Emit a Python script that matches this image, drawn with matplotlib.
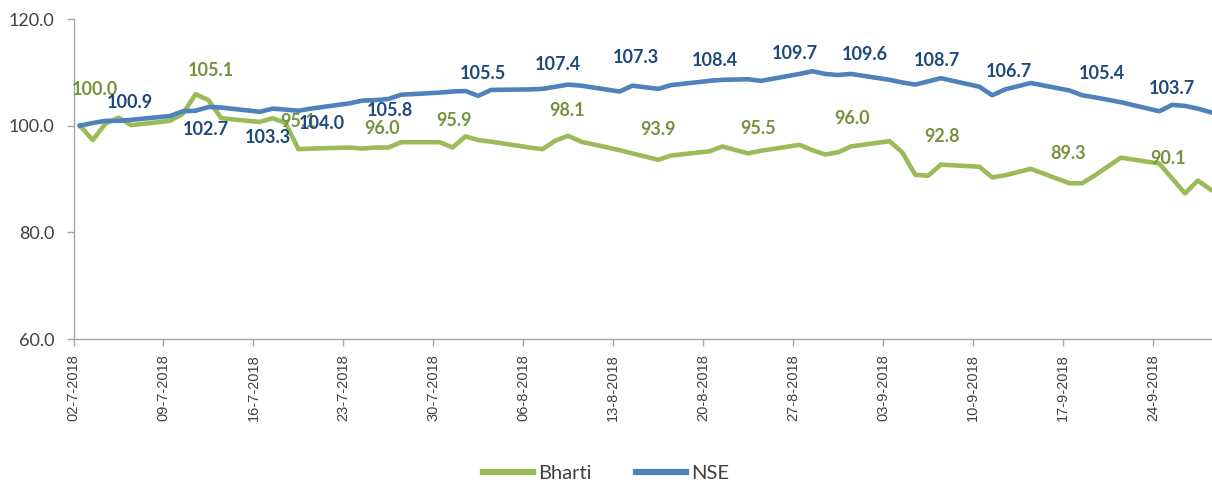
import matplotlib
matplotlib.use("Agg")
import matplotlib.pyplot as plt
import matplotlib.dates as mdates
from matplotlib.lines import Line2D
import pandas as pd

# trading days (Jul 2 - Sep 28 2018, exchange holidays excluded)
dates = [
    "2018-07-02", "2018-07-03", "2018-07-04", "2018-07-05", "2018-07-06",
    "2018-07-09", "2018-07-10", "2018-07-11", "2018-07-12", "2018-07-13",
    "2018-07-16", "2018-07-17", "2018-07-18", "2018-07-19", "2018-07-20",
    "2018-07-23", "2018-07-24", "2018-07-25", "2018-07-26", "2018-07-27",
    "2018-07-30", "2018-07-31", "2018-08-01", "2018-08-02", "2018-08-03",
    "2018-08-06", "2018-08-07", "2018-08-08", "2018-08-09", "2018-08-10",
    "2018-08-13", "2018-08-14", "2018-08-16", "2018-08-17",
    "2018-08-20", "2018-08-21", "2018-08-23", "2018-08-24",
    "2018-08-27", "2018-08-28", "2018-08-29", "2018-08-30", "2018-08-31",
    "2018-09-03", "2018-09-04", "2018-09-05", "2018-09-06", "2018-09-07",
    "2018-09-10", "2018-09-11", "2018-09-12", "2018-09-14",
    "2018-09-17", "2018-09-18", "2018-09-19", "2018-09-21",
    "2018-09-24", "2018-09-25", "2018-09-26", "2018-09-27", "2018-09-28",
]

bharti = [
    100.0, 97.3, 100.4, 101.5, 100.1,
    100.9, 102.2, 105.9, 104.8, 101.4,
    100.7, 101.4, 100.5, 95.6, 95.7,
    95.9, 95.7, 95.9, 95.9, 96.9,
    96.9, 95.9, 98.0, 97.3, 97.0,
    95.9, 95.6, 97.2, 98.1, 97.0,
    95.4, 94.8, 93.6, 94.4,
    95.2, 96.1, 94.8, 95.3,
    96.4, 95.4, 94.6, 95.0, 96.1,
    97.1, 95.0, 90.8, 90.6, 92.7,
    92.3, 90.3, 90.7, 91.9,
    89.2, 89.2, 90.7, 94.0,
    92.9, 90.1, 87.3, 89.7, 88.0,
]

nse = [
    100.0, 100.5, 100.9, 100.9, 101.1,
    101.8, 102.7, 102.8, 103.5, 103.4,
    102.6, 103.2, 103.0, 102.8, 103.2,
    104.2, 104.7, 104.8, 105.0, 105.8,
    106.2, 106.4, 106.5, 105.6, 106.7,
    106.8, 106.9, 107.3, 107.7, 107.5,
    106.4, 107.5, 106.9, 107.6,
    108.4, 108.6, 108.7, 108.4,
    109.7, 110.2, 109.7, 109.5, 109.7,
    108.6, 108.1, 107.7, 108.3, 108.9,
    107.3, 105.7, 106.8, 108.0,
    106.6, 105.7, 105.3, 104.4,
    102.7, 103.9, 103.7, 103.2, 102.5,
]

tick_dates = ["2018-07-02", "2018-07-09", "2018-07-16", "2018-07-23", "2018-07-30",
              "2018-08-06", "2018-08-13", "2018-08-20", "2018-08-27", "2018-09-03",
              "2018-09-10", "2018-09-17", "2018-09-24"]
tick_labels = ["02-7-2018", "09-7-2018", "16-7-2018", "23-7-2018", "30-7-2018",
               "06-8-2018", "13-8-2018", "20-8-2018", "27-8-2018", "03-9-2018",
               "10-9-2018", "17-9-2018", "24-9-2018"]

# data labels shown on the chart
bharti_labels = ["100.0", "105.1", "95.1", "96.0", "95.9", "98.1", "93.9",
                 "95.5", "96.0", "92.8", "89.3", "90.1"]
nse_labels = ["100.9", "102.7", "103.3", "104.0", "105.8", "105.5", "107.4", "107.3",
              "108.4", "109.7", "109.6", "108.7", "106.7", "105.4", "103.7"]

# label placement (days after Jul 2, y position in axis units)
bharti_lab_x = [1.2, 10.2, 17.0, 23.5, 29.1, 37.9, 45.0, 52.8, 60.1, 67.1, 76.9, 84.7]
bharti_lab_y = [106.7, 110.4, 100.7, 99.5, 101.0, 102.9, 99.2, 99.5, 101.4, 98.0, 94.7, 93.9]
nse_lab_x = [3.9, 9.8, 14.6, 18.8, 24.1, 31.4, 37.2, 43.3, 49.4, 55.6, 61.1, 66.7, 72.3, 79.5, 85.0]
nse_lab_y = [104.4, 99.3, 97.7, 100.5, 102.9, 109.8, 111.4, 112.7, 112.3, 113.6, 113.4,
             112.3, 110.2, 109.8, 107.0]

GREEN = "#9BBB59"
GREEN_TXT = "#76923C"
BLUE = "#4F81BD"
BLUE_TXT = "#1F497D"
AXIS_GRAY = "#A6A6A6"
TXT = "#404040"

x = mdates.date2num(pd.to_datetime(dates))
start = mdates.date2num(pd.Timestamp("2018-07-02"))
ticks = mdates.date2num(pd.to_datetime(tick_dates)) - 0.5

fig = plt.figure(figsize=(12.12, 4.86), dpi=100)
ax = fig.add_axes([73.5 / 1212, 1 - 339 / 486, 1 - 73.5 / 1212, 320 / 486])

ax.plot(x, bharti, color=GREEN, lw=3.3, solid_joinstyle="round", zorder=3)
ax.plot(x, nse, color=BLUE, lw=3.3, solid_joinstyle="round", zorder=3)

for t, lx, ly in zip(bharti_labels, bharti_lab_x, bharti_lab_y):
    ax.text(start + lx, ly, t, ha="center", va="center", color=GREEN_TXT,
            fontsize=13, fontweight="bold", family="Lato", zorder=4)
for t, lx, ly in zip(nse_labels, nse_lab_x, nse_lab_y):
    ax.text(start + lx, ly, t, ha="center", va="center", color=BLUE_TXT,
            fontsize=13, fontweight="bold", family="Lato", zorder=5)

ax.set_ylim(60, 120)
ax.set_yticks([60, 80, 100, 120])
ax.set_yticklabels(["60.0", "80.0", "100.0", "120.0"], family="Lato", fontsize=13, color=TXT)
ax.set_xlim(start - 0.5, x[-1] + 0.1)
ax.set_xticks(ticks)
ax.set_xticklabels(tick_labels, rotation=90, family="Liberation Sans", fontsize=10.5, color=TXT)
ax.tick_params(axis="y", length=5, width=1, color=AXIS_GRAY, pad=9)
ax.tick_params(axis="x", length=5, width=1, color=AXIS_GRAY, pad=6)

for s in ["top", "right"]:
    ax.spines[s].set_visible(False)
for s in ["left", "bottom"]:
    ax.spines[s].set_color(AXIS_GRAY)
    ax.spines[s].set_linewidth(1)

handles = [Line2D([0], [0], color=GREEN, lw=4.5), Line2D([0], [0], color=BLUE, lw=4.5)]
fig.legend(handles, ["Bharti", "NSE"], loc="center", bbox_to_anchor=(0.5, 1 - 473 / 486),
           ncol=2, frameon=False, handlelength=2.5, handletextpad=0.25, columnspacing=2.2,
           prop={"family": "Lato", "size": 14.5}, labelcolor=TXT)

fig.savefig("out.png", dpi=100, facecolor="white")
plt.close()
